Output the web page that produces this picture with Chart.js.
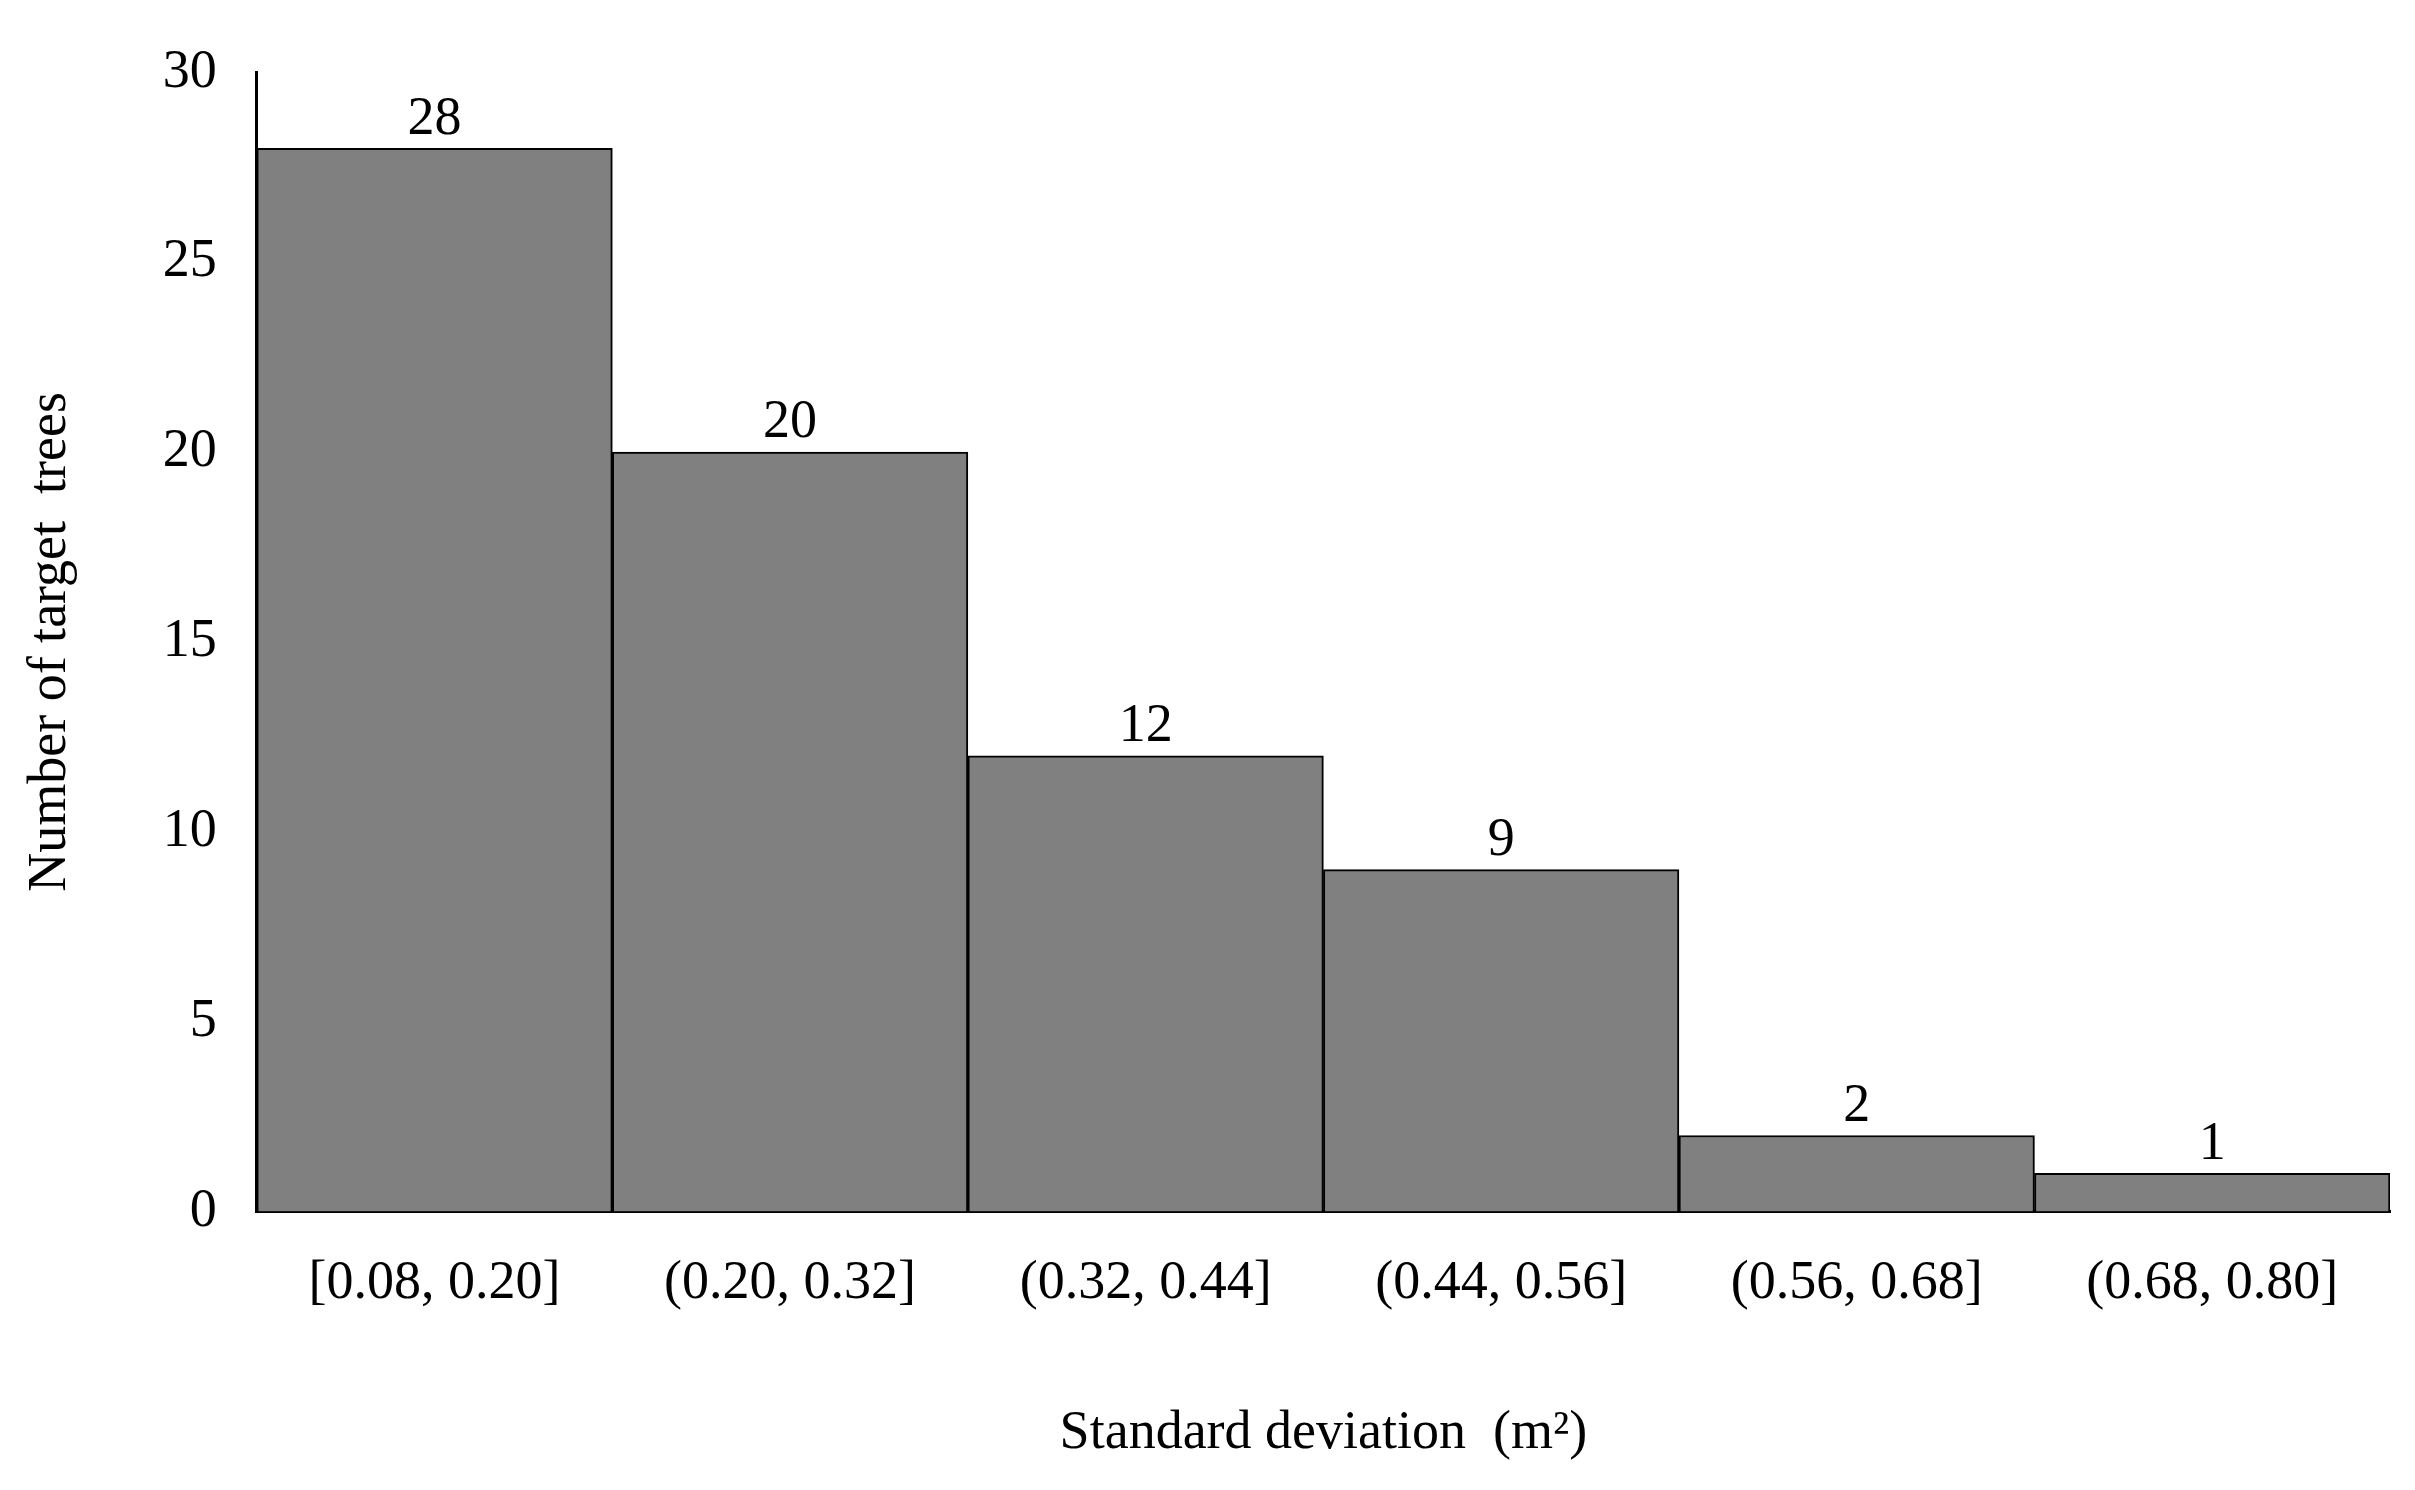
<!DOCTYPE html>
<html>
<head>
<meta charset="utf-8">
<script src="https://cdn.jsdelivr.net/npm/chart.js@4"></script>
<style>
html, body { margin: 0; padding: 0; background: #fff; }
#wrap { width: 2415px; height: 1490px; }
</style>
</head>
<body>
<div id="wrap"><canvas id="chart"></canvas></div>
<script>
// DATA
const categories = ["[0.08, 0.20]", "(0.20, 0.32]", "(0.32, 0.44]", "(0.44, 0.56]", "(0.56, 0.68]", "(0.68, 0.80]"];
const counts = [28, 20, 12, 9, 2, 1];
const yTicks = [0, 5, 10, 15, 20, 25, 30];

const FONT = "'Liberation Serif', 'DejaVu Serif', serif";

// value labels above bars
const barLabels = {
    id: "barLabels",
    afterDatasetsDraw(chart) {
        const ctx = chart.ctx;
        const meta = chart.getDatasetMeta(0);
        ctx.save();
        ctx.font = "54px " + FONT;
        ctx.fillStyle = "#000";
        ctx.textAlign = "center";
        ctx.textBaseline = "bottom";
        meta.data.forEach((bar, i) => {
            ctx.fillText(counts[i], bar.x, bar.y - 2);
        });
        ctx.restore();
    }
};

new Chart(document.getElementById("chart"), {
    type: "bar",
    data: {
        labels: categories,
        datasets: [{
            data: counts,
            backgroundColor: "#808080",
            borderColor: "#000",
            borderWidth: 2,
            barPercentage: 1,
            categoryPercentage: 1
        }]
    },
    options: {
        responsive: true,
        maintainAspectRatio: false,
        animation: false,
        layout: { padding: { top: 40, right: 25, left: 14, bottom: 20 } },
        plugins: { legend: { display: false }, tooltip: { enabled: false } },
        scales: {
            x: {
                grid: { display: false, drawTicks: false },
                border: { color: "#000", width: 3 },
                ticks: { color: "#000", font: { family: FONT, size: 54 }, padding: 40 },
                title: { display: true, text: "Standard deviation  (m²)", color: "#000", font: { family: FONT, size: 54 }, padding: { top: 45 } }
            },
            y: {
                min: 0, max: 30,
                afterBuildTicks: axis => { axis.ticks = yTicks.map(v => ({ value: v })); },
                grid: { display: false, drawTicks: false },
                border: { color: "#000", width: 3 },
                ticks: { color: "#000", font: { family: FONT, size: 54 }, padding: 40 },
                title: { display: true, text: "Number of target  trees", color: "#000", font: { family: FONT, size: 54 }, padding: { bottom: 40 } }
            }
        }
    },
    plugins: [barLabels]
});
</script>
</body>
</html>
